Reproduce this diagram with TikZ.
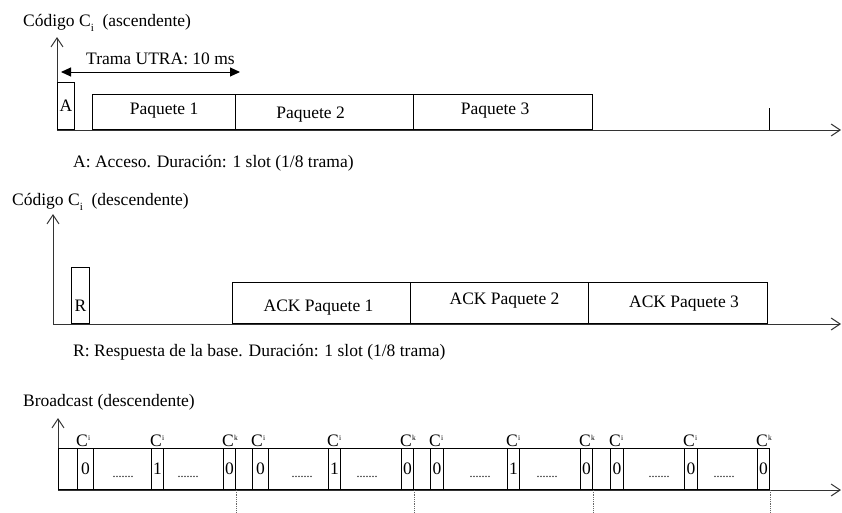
\documentclass[tikz,border=0pt]{standalone}
\usepackage{fontspec}
\setmainfont{Liberation Serif}
\usetikzlibrary{arrows.meta}

\newcommand{\subidx}[1]{\raisebox{-0.32em}{\fontsize{11}{11}\selectfont #1}}
\newcommand{\chlbl}[1]{C\kern0.3pt\raisebox{0.3em}{\fontsize{7.5}{7.5}\selectfont #1}}

\tikzset{
  axis/.style={line width=1pt, draw=black!80, >={Straight Barb[length=9pt,width=12pt]}, <->},
  span/.style={line width=1pt, >={Triangle[length=10pt,width=9pt]}, <->},
  txt/.style={inner sep=0pt, anchor=west},
  pkt/.style={draw, line width=1.1pt, inner sep=0pt, anchor=south west},
  slot/.style={draw, line width=0.9pt, inner sep=0pt, anchor=south west, minimum height=41, minimum width=12},
  chan/.style={anchor=south west, inner sep=0pt, yshift=1.5pt, xshift=-1pt},
  dots/.style={inner sep=0pt, font=\fontsize{12}{12}\selectfont},
  cut/.style={densely dotted, line width=0.8pt, draw=black!60}
}

\begin{document}
\begin{tikzpicture}[x=1pt, y=-1pt, font=\fontsize{17.5}{21}\selectfont]
  \useasboundingbox (0,0) rectangle (842,512);

  % Titles and notes
  \node[txt] (t1) at (23,23) {Código C\subidx{i}\ \ (ascendente)};
  \node[txt] (n1) at (73,163) {A: Acceso. Duración: 1 slot (1/8 trama)};
  \node[txt] (t2) at (12,202) {Código C\subidx{i}\ \ (descendente)};
  \node[txt] (n2) at (73,352) {R: Respuesta de la base. Duración: 1 slot (1/8 trama)};
  \node[txt] (t3) at (23,402) {Broadcast (descendente)};

  % Axes
  \coordinate (y1) at (57,37);
  \coordinate (x1) at (841,130);
  \coordinate (y2) at (53,214);
  \coordinate (x2) at (841,324);
  \coordinate (y3) at (58,418);
  \coordinate (x3) at (841,490);
  \coordinate (bot) at (0,512);
  \draw[axis] (y1) |- (x1);
  \draw[axis] (y2) |- (x2);
  \draw[axis] (y3) |- (x3);

  % Uplink
  \node[pkt, minimum width=17, minimum height=47] (a) at (57,130) {A};
  \node[pkt, minimum width=143, minimum height=35, label={[yshift=1pt]center:Paquete 1}] (p1) at (92,130) {};
  \node[pkt, minimum width=178, minimum height=35, label={[xshift=-14pt, yshift=-3pt]center:Paquete 2}] (p2) at (235,130) {};
  \node[pkt, minimum width=179, minimum height=35, label={[xshift=-8pt, yshift=1pt]center:Paquete 3}] (p3) at (413,130) {};
  \coordinate (tk) at (769,108);
  \draw[line width=1pt] (tk) -- (tk |- x1);
  \coordinate (tr1) at (61,72);
  \coordinate (tr2) at (240,72);
  \draw[span] (tr1) -- node[above=7pt, xshift=10pt, inner sep=0pt] {Trama UTRA: 10 ms} (tr2);

  % Downlink
  \node[pkt, minimum width=18, minimum height=56, label={[yshift=-10pt]center:R}] (r) at (71,324) {};
  \node[pkt, minimum width=178, minimum height=41, label={[xshift=-3pt, yshift=-5pt]center:ACK Paquete 1}] (k1) at (232,324) {};
  \node[pkt, minimum width=178, minimum height=41, label={[xshift=5pt, yshift=2pt]center:ACK Paquete 2}] (k2) at (410,324) {};
  \node[pkt, minimum width=179, minimum height=41, label={[xshift=6pt, yshift=-1pt]center:ACK Paquete 3}] (k3) at (588,324) {};

  % Broadcast frames
  \node[pkt, minimum width=711, minimum height=41] (bc) at (58,490) {};
  \node[slot, minimum width=16, label={[chan]north west:\chlbl{i}}] (s11) at (77,490) {0};
  \node[slot, label={[chan]north west:\chlbl{i}}] (s12) at (151,490) {1};
  \node[slot, label={[chan]north west:\chlbl{k}}] (s13) at (223,490) {0};
  \node[slot, minimum width=16, label={[chan]north west:\chlbl{i}}] (s21) at (252,490) {0};
  \node[slot, label={[chan]north west:\chlbl{i}}] (s22) at (328,490) {1};
  \node[slot, label={[chan]north west:\chlbl{k}}] (s23) at (401,490) {0};
  \node[slot, minimum width=13, label={[chan]north west:\chlbl{i}}] (s31) at (430,490) {0};
  \node[slot, label={[chan]north west:\chlbl{i}}] (s32) at (507,490) {1};
  \node[slot, label={[chan]north west:\chlbl{k}}] (s33) at (580,490) {0};
  \node[slot, minimum width=13, label={[chan]north west:\chlbl{i}}] (s41) at (610,490) {0};
  \node[slot, minimum width=13, label={[chan]north west:\chlbl{i}}] (s42) at (684,490) {0};
  \node[slot, label={[chan]north west:\chlbl{k}}] (s43) at (757,490) {0};
  \node[dots] (d11) at (123,477) {.......};
  \node[dots] (d12) at (188,477) {.......};
  \node[dots] (d21) at (302,477) {.......};
  \node[dots] (d22) at (367,477) {.......};
  \node[dots] (d31) at (480,477) {.......};
  \node[dots] (d32) at (547,477) {.......};
  \node[dots] (d41) at (659,477) {.......};
  \node[dots] (d42) at (724,477) {.......};

  % Frame limits
  \draw[cut] (s13.south east) -- (s13.south east |- bot);
  \draw[cut] (s23.south east) -- (s23.south east |- bot);
  \draw[cut] (s33.south east) -- (s33.south east |- bot);
  \draw[cut] (s43.south east) -- (s43.south east |- bot);
\end{tikzpicture}
\end{document}
